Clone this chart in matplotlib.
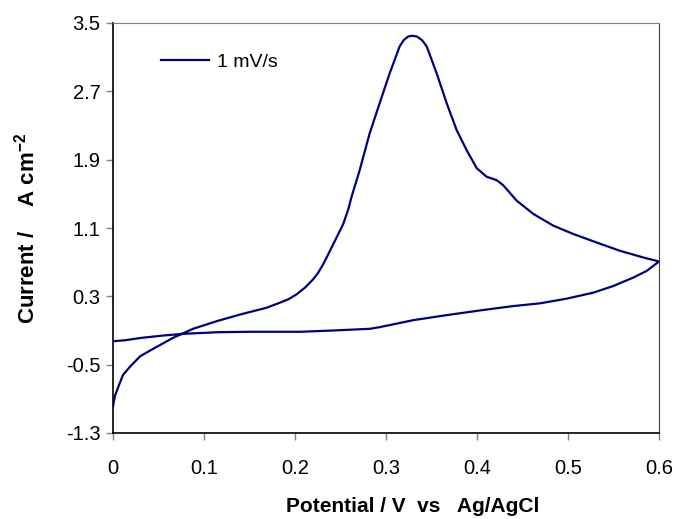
import matplotlib
matplotlib.use("Agg")
import matplotlib.pyplot as plt

plt.rcParams['font.family'] = ['Liberation Sans', 'DejaVu Sans']
plt.rcParams['mathtext.fontset'] = 'custom'
plt.rcParams['mathtext.rm'] = 'Liberation Sans:bold'
plt.rcParams['mathtext.bf'] = 'Liberation Sans:bold'
plt.rcParams['axes.unicode_minus'] = False

# Forward (anodic) scan
fwd_x = [0.000, 0.002, 0.006, 0.011, 0.019, 0.030, 0.044, 0.066, 0.088, 0.114, 0.140,
         0.169, 0.1835, 0.1927, 0.2018, 0.211, 0.220, 0.2256, 0.231, 0.2366, 0.242,
         0.2476, 0.253, 0.2586, 0.262, 0.271, 0.282, 0.293, 0.304, 0.315, 0.3195,
         0.3245, 0.329, 0.3337, 0.3395, 0.3447, 0.3557, 0.3667, 0.3777, 0.3887, 0.3997,
         0.4106, 0.4216, 0.4289, 0.4436, 0.4619, 0.4839, 0.5058, 0.5315, 0.5571, 0.5827, 0.600]
fwd_y = [-0.99, -0.87, -0.755, -0.62, -0.52, -0.40, -0.315, -0.186, -0.08, 0.009, 0.088,
         0.167, 0.226, 0.265, 0.324, 0.402, 0.50, 0.578, 0.676, 0.794, 0.91,
         1.03, 1.147, 1.32, 1.46, 1.774, 2.206, 2.56, 2.91, 3.226, 3.30,
         3.343, 3.35, 3.343, 3.30, 3.226, 2.91, 2.56, 2.245, 2.01, 1.80,
         1.70, 1.66, 1.60, 1.42, 1.265, 1.127, 1.03, 0.93, 0.833, 0.755, 0.708]

# Reverse scan
rev_x = [0.600, 0.5865, 0.5718, 0.5498, 0.5278, 0.4986, 0.4692, 0.4399, 0.4033, 0.3667,
         0.330, 0.2934, 0.2824, 0.242, 0.2055, 0.1505, 0.1157, 0.077, 0.055, 0.0315, 0.0132, 0.000]
rev_y = [0.708, 0.598, 0.52, 0.421, 0.343, 0.273, 0.218, 0.186, 0.135, 0.08,
         0.021, -0.06, -0.08, -0.10, -0.115, -0.115, -0.12, -0.139, -0.159, -0.186, -0.214, -0.226]

x_ticks = [0, 0.1, 0.2, 0.3, 0.4, 0.5, 0.6]
x_tick_labels = ['0', '0.1', '0.2', '0.3', '0.4', '0.5', '0.6']
y_ticks = [-1.3, -0.5, 0.3, 1.1, 1.9, 2.7, 3.5]
y_tick_labels = ['-1.3', '-0.5', '0.3', '1.1', '1.9', '2.7', '3.5']

fig = plt.figure(figsize=(6.78, 5.19), dpi=100)
ax = fig.add_axes([113/678, 86/519, 546/678, 410/519])

color = '#000080'
cv_x = fwd_x + rev_x[1:]
cv_y = fwd_y + rev_y[1:]
ax.plot(cv_x, cv_y, color=color, lw=1.6, label='1 mV/s')

ax.set_xlim(0, 0.6)
ax.set_ylim(-1.3, 3.5)
ax.set_xticks(x_ticks)
ax.set_xticklabels(x_tick_labels)
ax.set_yticks(y_ticks)
ax.set_yticklabels(y_tick_labels)

ax.tick_params(axis='both', direction='out', length=5, width=1, color='#808080',
               labelsize=14.5, labelcolor='black')
ax.tick_params(axis='x', pad=14)
ax.tick_params(axis='y', pad=4)

ax.spines['left'].set_color('black')
ax.spines['bottom'].set_color('black')
ax.spines['left'].set_linewidth(1.2)
ax.spines['bottom'].set_linewidth(1.2)
ax.spines['top'].set_color('#808080')
ax.spines['right'].set_color('#404040')

ax.set_xlabel('Potential / V  vs   Ag/AgCl', fontsize=15, fontweight='bold')
ax.xaxis.set_label_coords((413 - 113) / 546, -(506 - 433) / 410)
ax.xaxis.label.set_va('center')
ax.set_ylabel(r'Current /    A cm$^{-2}$', fontsize=16, fontweight='bold')
ax.yaxis.set_label_coords(-(113 - 27) / 546, 0.5)
ax.yaxis.label.set_va('center')

ax.legend(loc='center left', bbox_to_anchor=(48/546, (433 - 62) / 410), frameon=False,
          fontsize=14, handlelength=2.47, handletextpad=0.41, borderpad=0, borderaxespad=0)

fig.savefig('out.png', dpi=100)
